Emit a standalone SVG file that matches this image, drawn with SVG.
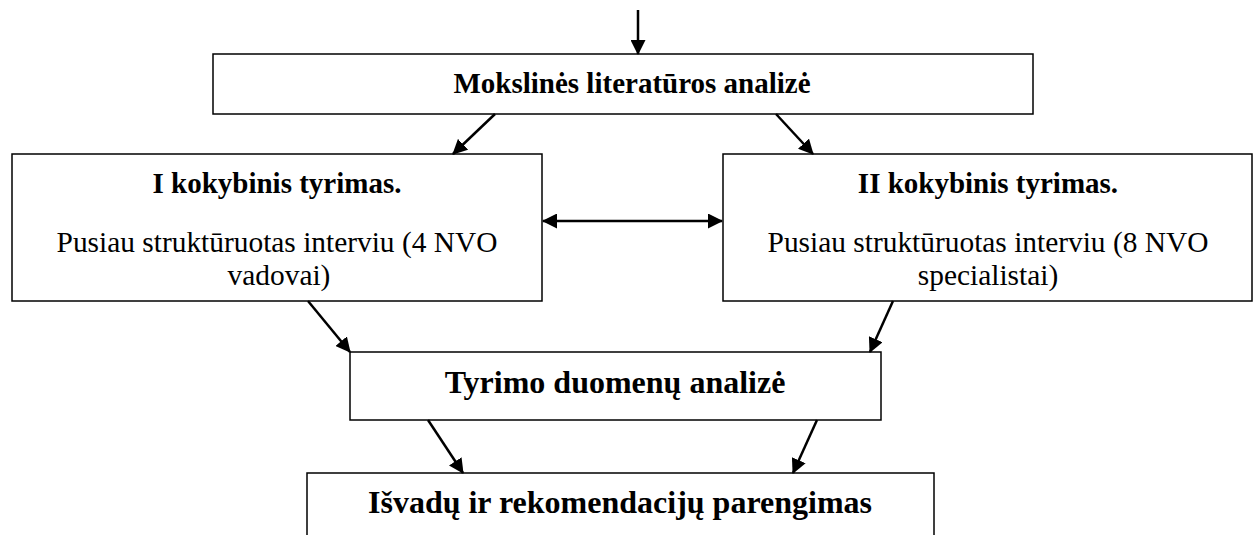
<svg xmlns="http://www.w3.org/2000/svg" width="1259" height="535" viewBox="0 0 1259 535">
  <style>
    .box { fill: #ffffff; stroke: #000000; stroke-width: 1.5; }
    .t { font-family: "Liberation Serif", "Times New Roman", serif; fill: #000000; text-anchor: middle; }
    .b29 { font-size: 29px; font-weight: bold; }
    .r29 { font-size: 29.4px; font-weight: normal; }
    .b32 { font-size: 32px; font-weight: bold; }
    .arr { stroke: #000000; stroke-width: 2.5; fill: none; marker-end: url(#ah); }
    .dbl { stroke: #000000; stroke-width: 2.5; fill: none; marker-end: url(#ah); marker-start: url(#ah); }
  </style>
  <defs>
    <marker id="ah" viewBox="0 0 15 15" refX="14" refY="7.5" markerWidth="15" markerHeight="15" markerUnits="userSpaceOnUse" orient="auto-start-reverse">
      <path d="M0,0 L15,7.5 L0,15 z" fill="#000000"/>
    </marker>
  </defs>
  <rect width="1259" height="535" fill="#ffffff"/>

  <g id="node-literatura">
    <rect class="box" x="213" y="54" width="820" height="60"/>
    <text class="t b29" x="632" y="93">Mokslinės literatūros analizė</text>
  </g>

  <g id="node-tyrimas1">
    <rect class="box" x="12" y="154" width="530" height="147"/>
    <text class="t b29" x="277" y="193">I kokybinis tyrimas.</text>
    <text class="t r29" x="277" y="252">Pusiau struktūruotas interviu (4 NVO</text>
    <text class="t r29" x="279" y="285">vadovai)</text>
  </g>

  <g id="node-tyrimas2">
    <rect class="box" x="723" y="154" width="529" height="147"/>
    <text class="t b29" x="988" y="193">II kokybinis tyrimas.</text>
    <text class="t r29" x="988" y="252">Pusiau struktūruotas interviu (8 NVO</text>
    <text class="t r29" x="988" y="285">specialistai)</text>
  </g>

  <g id="node-duomenys">
    <rect class="box" x="350" y="352" width="531" height="68"/>
    <text class="t b32" x="615" y="393">Tyrimo duomenų analizė</text>
  </g>

  <g id="node-isvados">
    <rect class="box" x="307" y="473" width="627" height="75"/>
    <text class="t b32" x="620" y="513">Išvadų ir rekomendacijų parengimas</text>
  </g>

  <g id="connectors">
    <line class="arr" x1="638" y1="10" x2="638" y2="54"/>
    <line class="arr" x1="495" y1="114" x2="453" y2="154"/>
    <line class="arr" x1="776" y1="114" x2="813" y2="154"/>
    <line class="dbl" x1="543" y1="221" x2="722" y2="221"/>
    <line class="arr" x1="308" y1="301" x2="350" y2="352"/>
    <line class="arr" x1="893" y1="301" x2="870" y2="352"/>
    <line class="arr" x1="428" y1="420" x2="463" y2="473"/>
    <line class="arr" x1="817" y1="420" x2="793" y2="473"/>
  </g>
</svg>
